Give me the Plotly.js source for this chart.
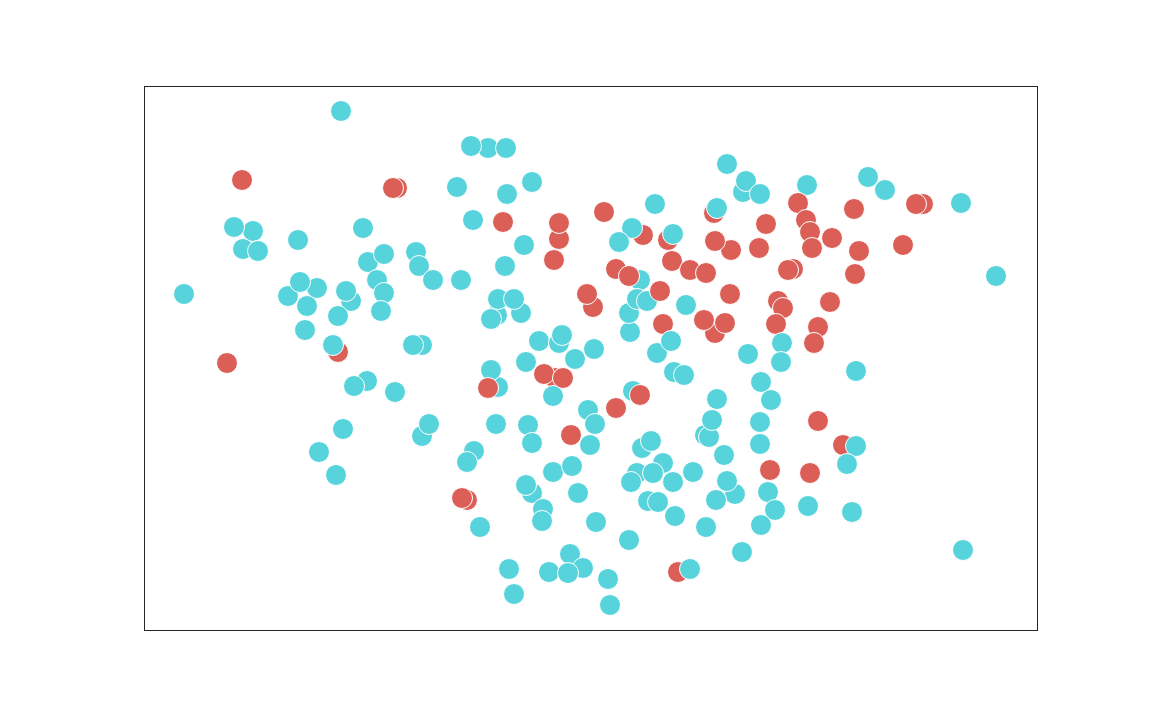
<!DOCTYPE html>
<html>
<head>
<meta charset="utf-8">
<script src="https://cdn.plot.ly/plotly-3.0.1.min.js"></script>
<style>
  html, body { margin: 0; padding: 0; background: #ffffff; }
  #scatter-chart { width: 1152px; height: 720px; }
</style>
</head>
<body>
<div id="scatter-chart"></div>
<script>
// Point values (arbitrary units, y grows downward)
// group: 0 = cyan, 1 = red. Array order = drawing order (later points on top)
const xVals = [
    341, 242, 253, 234, 243, 258, 298, 363, 368, 184,
    227, 288, 317, 300, 307, 305, 351, 346, 338, 338,
    333, 367, 354, 343, 319, 336, 377, 384, 381, 384,
    416, 419, 433, 461, 422, 413, 395, 422, 429, 397,
    393, 488, 471, 506, 457, 507, 532, 473, 503, 559,
    559, 554, 524, 505, 497, 491, 521, 498, 514, 539,
    559, 562, 526, 575, 594, 593, 587, 498, 491, 488,
    555, 544, 563, 553, 588, 595, 571, 590, 496, 528,
    532, 474, 467, 467, 462, 480, 553, 572, 532, 526,
    578, 543, 542, 596, 570, 509, 514, 583, 549, 568,
    608, 610, 629, 642, 651, 663, 637, 653, 631, 673,
    693, 648, 658, 675, 706, 742, 678, 690, 735, 727,
    716, 724, 705, 709, 712, 717, 760, 760, 761, 771,
    770, 768, 775, 761, 810, 808, 843, 856, 847, 852,
    963, 818, 856, 630, 629, 640, 637, 647, 660, 663,
    657, 671, 674, 684, 686, 715, 704, 725, 730, 778,
    783, 776, 818, 814, 748, 782, 781, 830, 855, 996,
    793, 788, 759, 766, 731, 715, 807, 798, 806, 810,
    832, 812, 859, 854, 903, 923, 916, 868, 885, 961,
    727, 743, 746, 760, 714, 717, 655, 643, 632, 619,
    668, 673, 604, 672, 690, 706, 616, 629, 633, 640,
    616
];
const yVals = [
    111, 180, 231, 227, 249, 251, 240, 228, 262, 294,
    363, 296, 288, 282, 306, 330, 301, 291, 316, 352,
    345, 381, 386, 429, 452, 475, 280, 293, 311, 254,
    252, 266, 280, 280, 345, 345, 392, 436, 424, 188,
    188, 148, 146, 148, 187, 194, 182, 220, 222, 239,
    223, 260, 245, 266, 315, 319, 313, 299, 299, 341,
    343, 335, 362, 359, 349, 307, 294, 387, 370, 388,
    378, 374, 378, 396, 410, 424, 435, 445, 424, 425,
    443, 451, 462, 500, 498, 527, 472, 466, 493, 485,
    493, 509, 521, 522, 554, 569, 594, 568, 572, 573,
    579, 605, 540, 448, 441, 463, 473, 473, 482, 482,
    472, 501, 502, 516, 527, 552, 572, 569, 494, 481,
    500, 455, 435, 437, 420, 399, 422, 444, 382, 400,
    470, 492, 510, 525, 473, 506, 445, 446, 464, 512,
    550, 421, 371, 332, 313, 280, 299, 301, 291, 324,
    353, 341, 372, 375, 305, 333, 320, 323, 294, 301,
    308, 324, 327, 343, 354, 343, 362, 302, 274, 276,
    269, 270, 248, 224, 250, 241, 185, 203, 220, 232,
    238, 248, 251, 209, 245, 204, 204, 177, 190, 203,
    164, 192, 181, 194, 213, 208, 204, 235, 228, 242,
    240, 234, 212, 261, 270, 273, 269, 276, 391, 395,
    408
];
const groups = [
    0, 1, 0, 0, 0, 0, 0, 0, 0, 0,
    1, 0, 0, 0, 0, 0, 0, 0, 0, 1,
    0, 0, 0, 0, 0, 0, 0, 0, 0, 0,
    0, 0, 0, 0, 0, 0, 0, 0, 0, 1,
    1, 0, 0, 0, 0, 0, 0, 0, 1, 1,
    1, 1, 0, 0, 0, 0, 0, 0, 0, 0,
    0, 0, 0, 0, 0, 1, 1, 0, 0, 1,
    1, 1, 1, 0, 0, 0, 1, 0, 0, 0,
    0, 0, 0, 1, 1, 0, 0, 0, 0, 0,
    0, 0, 0, 0, 0, 0, 0, 0, 0, 0,
    0, 0, 0, 0, 0, 0, 0, 0, 0, 0,
    0, 0, 0, 0, 0, 0, 1, 0, 0, 0,
    0, 0, 0, 0, 0, 0, 0, 0, 0, 0,
    1, 0, 0, 0, 1, 0, 1, 0, 0, 0,
    0, 1, 0, 0, 0, 0, 0, 0, 1, 1,
    0, 0, 0, 0, 0, 1, 1, 1, 1, 1,
    1, 1, 1, 1, 0, 0, 0, 1, 1, 0,
    1, 1, 1, 1, 1, 1, 0, 1, 1, 1,
    1, 1, 1, 1, 1, 1, 1, 0, 0, 0,
    0, 0, 0, 0, 1, 0, 0, 1, 0, 0,
    1, 0, 1, 1, 1, 1, 1, 1, 0, 1,
    1
];
const groupColors = ['#57d3db', '#db5f57'];

function drawChart() {

    const chartDiv = document.getElementById('scatter-chart');

    // one trace so the two groups can interleave in drawing order
    const trace = {
        x: xVals,
        y: yVals,
        type: 'scatter',
        mode: 'markers',
        marker: {
            size: 21,
            color: groups.map(g => groupColors[g]),
            opacity: 1,
            line: { color: '#ffffff', width: 1 }
        },
        hoverinfo: 'x+y',
        showlegend: false
    };

    const axisStyle = {
        showticklabels: false,
        ticks: '',
        showgrid: false,
        zeroline: false,
        showline: true,
        mirror: true,
        linecolor: '#262626',
        linewidth: 1
    };

    const layout = {
        width: 1152,
        height: 720,
        xaxis: Object.assign({ range: [145, 1037] }, axisStyle),
        yaxis: Object.assign({ range: [630, 87] }, axisStyle),
        plot_bgcolor: '#ffffff',
        paper_bgcolor: '#ffffff',
        margin: { t: 87, l: 145, r: 115, b: 90 },
        showlegend: false
    };

    const config = {
        displayModeBar: false,
        staticPlot: true
    };

    Plotly.newPlot(chartDiv, [trace], layout, config);
}

drawChart();
</script>
</body>
</html>
